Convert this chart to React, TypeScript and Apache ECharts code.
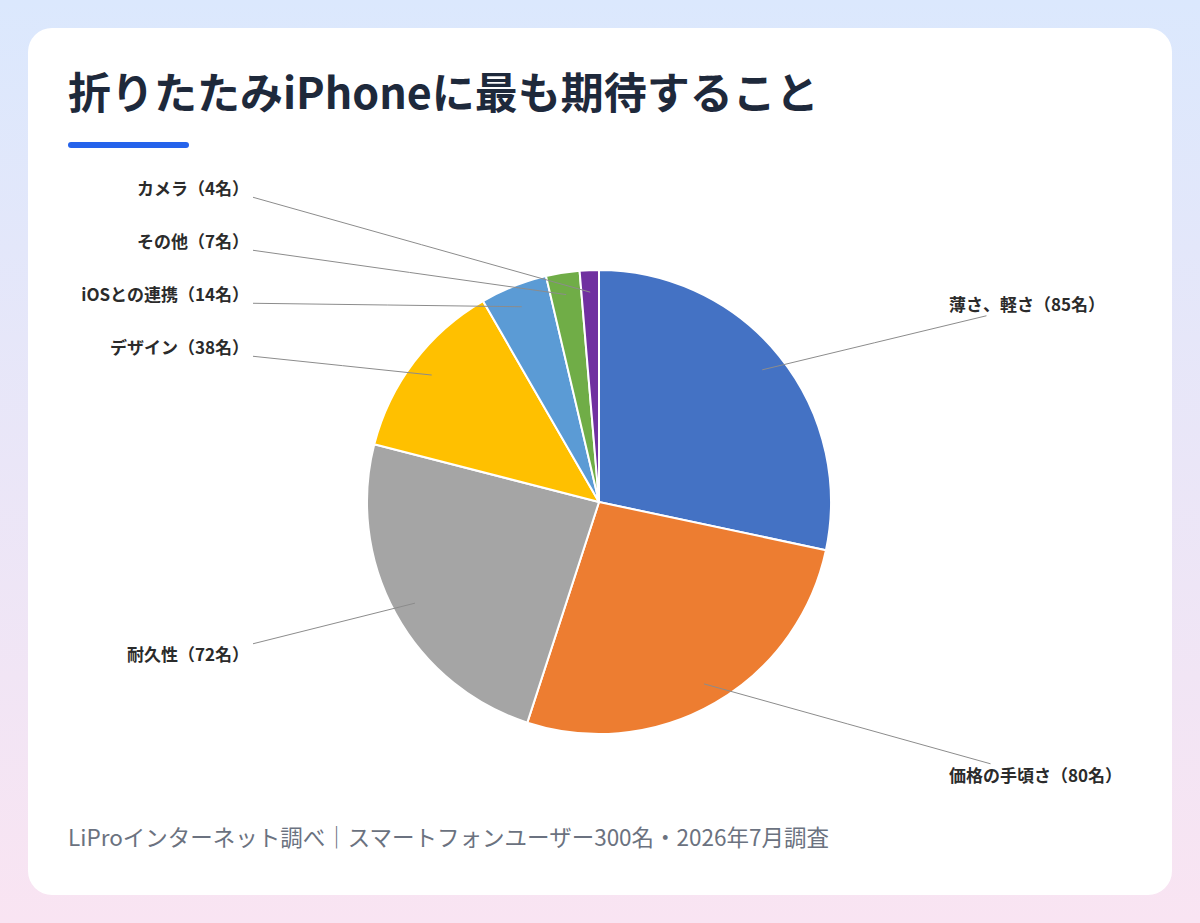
import { useEffect, useRef } from "react";
import * as echarts from "echarts";

const categories = ["薄さ、軽さ", "価格の手頃さ", "耐久性", "デザイン", "iOSとの連携", "その他", "カメラ"];
const counts = [85, 80, 72, 38, 14, 7, 4];
const sliceColors = ["#4472C4", "#ED7D31", "#A5A5A5", "#FFC000", "#5B9BD5", "#70AD47", "#7030A0"];
const titleText = "折りたたみiPhoneに最も期待すること";
const sourceText = "LiProインターネット調べ｜スマートフォンユーザー300名・2026年7月調査";

const FONT = '"Noto Sans CJK JP", "Noto Sans", sans-serif';
const CENTER = [571, 474];
const RADIUS = 232;
// leader lines start inside the slice, labels sit on two columns
const ANCHOR_R = 210;
const LABEL_R = 315;
const RIGHT_OFFSET = 350;
const LEFT_OFFSET = 350;
const LABEL_GAP = 53;

interface LabelSpot {
  right: boolean;
  anchor: number[];
  x: number;
  y: number;
}

function planLabels(): LabelSpot[] {
  const total = counts.reduce((a, b) => a + b, 0);
  let acc = 0;
  const plan = counts.map((value) => {
    const mid = 90 - ((acc + value / 2) / total) * 360;
    acc += value;
    const rad = (mid * Math.PI) / 180;
    const cos = Math.cos(rad);
    const sin = Math.sin(rad);
    const right = cos >= 0;
    return {
      right,
      anchor: [CENTER[0] + ANCHOR_R * cos, CENTER[1] - ANCHOR_R * sin],
      x: right ? CENTER[0] + RIGHT_OFFSET : CENTER[0] - LEFT_OFFSET,
      y: CENTER[1] - LABEL_R * sin
    };
  });
  for (const side of [true, false]) {
    const column = plan.filter((p) => p.right === side).sort((a, b) => a.y - b.y);
    for (let k = 1; k < column.length; k++) {
      column[k].y = Math.max(column[k].y, column[k - 1].y + LABEL_GAP);
    }
  }
  return plan;
}

function buildOption(): echarts.EChartsCoreOption {
  const plan = planLabels();
  const pieData = categories.map((name, i) => ({
    name,
    value: counts[i],
    itemStyle: { color: sliceColors[i] }
  }));
  return {
    animation: false,
    title: {
      text: titleText,
      left: 40,
      top: 40,
      padding: 0,
      textStyle: { fontFamily: FONT, fontSize: 43, fontWeight: "bold", color: "#1e293b" }
    },
    graphic: [
      {
        type: "rect",
        shape: { x: 40, y: 114, width: 121, height: 6, r: 3 },
        style: { fill: "#2563eb" }
      },
      {
        type: "text",
        x: 40,
        y: 808,
        style: {
          text: sourceText,
          font: `22.5px ${FONT}`,
          fill: "#6b7280",
          verticalAlign: "middle"
        }
      }
    ],
    series: [
      {
        type: "pie",
        z: 2,
        center: CENTER,
        radius: RADIUS,
        startAngle: 90,
        clockwise: true,
        label: { show: false },
        labelLine: { show: false },
        itemStyle: { borderColor: "#ffffff", borderWidth: 2 },
        data: pieData
      },
      {
        // transparent copy on top so the leader lines cross the slices
        type: "pie",
        z: 5,
        center: CENTER,
        radius: RADIUS,
        startAngle: 90,
        clockwise: true,
        silent: true,
        avoidLabelOverlap: false,
        itemStyle: { color: "rgba(0,0,0,0)", borderWidth: 0 },
        label: {
          show: true,
          position: "outside",
          formatter: (p: any) => `${p.name}（${p.value}名）`,
          fontFamily: FONT,
          fontSize: 17,
          fontWeight: "bold",
          color: "#2b2b2b"
        },
        labelLine: {
          show: true,
          lineStyle: { color: "#8c8c8c", width: 1 }
        },
        labelLayout: (params: any) => {
          const p = plan[params.dataIndex];
          const w = params.labelRect.width;
          let end: number[];
          if (p.right) {
            const below = p.anchor[1] > p.y;
            end = [p.x + w * 0.24, p.y + (below ? 12 : -11)];
          } else {
            end = [p.x + 4, p.y + Math.max(-10, Math.min(10, p.anchor[1] - p.y))];
          }
          const mid = [(p.anchor[0] + end[0]) / 2, (p.anchor[1] + end[1]) / 2];
          return {
            x: p.x,
            y: p.y,
            align: p.right ? "left" : "right",
            verticalAlign: "middle",
            labelLinePoints: [p.anchor, mid, end]
          };
        },
        data: categories.map((name, i) => ({ name, value: counts[i] }))
      }
    ]
  };
}

export default function App() {
  const chartRef = useRef<HTMLDivElement | null>(null);

  useEffect(() => {
    if (!chartRef.current) {
      return;
    }
    const chart = echarts.init(chartRef.current, undefined, { renderer: "svg" });
    chart.setOption(buildOption());
    return () => {
      chart.dispose();
    };
  }, []);

  return (
    <div
      style={{
        position: "fixed",
        left: 0,
        top: 0,
        width: 1200,
        height: 923,
        background: "linear-gradient(180deg, #dbe8fd 0%, #f9e4f2 100%)"
      }}
    >
      <div
        style={{
          position: "absolute",
          left: 28,
          top: 28,
          width: 1144,
          height: 867,
          background: "#ffffff",
          borderRadius: 24,
          overflow: "hidden"
        }}
      >
        <div ref={chartRef} style={{ width: 1144, height: 867 }} />
      </div>
    </div>
  );
}
